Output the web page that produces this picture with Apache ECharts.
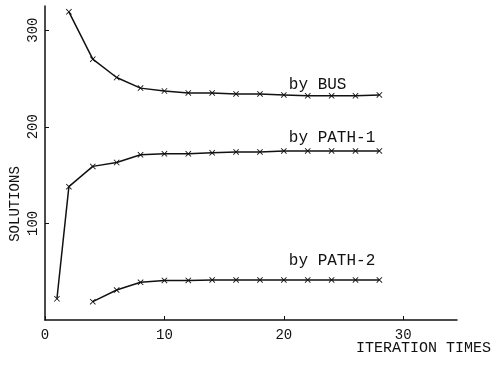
<!DOCTYPE html>
<html>
<head>
<meta charset="utf-8">
<script src="https://cdn.jsdelivr.net/npm/echarts@6/dist/echarts.min.js"></script>
<style>
	html, body { margin: 0; padding: 0; background: #fff; }
	#chart { width: 502px; height: 366px; }
</style>
</head>
<body>
<div id="chart"></div>
<script>
// values
var busX = [2, 4, 6, 8, 10, 12, 14, 16, 18, 20, 22, 24, 26, 28];
var busY = [319, 270, 251, 240, 237, 235, 235, 234, 234, 233, 232, 232, 232, 233];

var path1X = [1, 2, 4, 6, 8, 10, 12, 14, 16, 18, 20, 22, 24, 26, 28];
var path1Y = [22, 138, 159, 163, 171, 172, 172, 173, 174, 174, 175, 175, 175, 175, 175];

var path2X = [4, 6, 8, 10, 12, 14, 16, 18, 20, 22, 24, 26, 28];
var path2Y = [19, 31, 39, 41, 41, 41.5, 41.5, 41.5, 41.5, 41.5, 41.5, 41.5, 41.5];

var seriesNames = ["by BUS", "by PATH-1", "by PATH-2"];
var xTicks = [0, 10, 20, 30];
var yTicks = [100, 200, 300];

var FONT = "Liberation Mono";
var INK = "#111";
var CROSS = "path://M0,1L1,0L5,4L9,0L10,1L6,5L10,9L9,10L5,6L1,10L0,9L4,5Z";

// pair x and y, put the series label on the point at x = 20
function points(xs, ys, name, labelOffset)
{
	var re = [];
	for(var i=0; i<xs.length; i++)
	{
		var p = { value: [xs[i], ys[i]] };
		if(xs[i] === 20)
		{
			p.label = {
				show: true,
				formatter: name,
				position: "top",
				align: "left",
				distance: 0,
				offset: labelOffset,
				fontFamily: FONT,
				fontSize: 16,
				color: INK
			};
		}
		re.push(p);
	}
	return re;
}

function lineSeries(name, data)
{
	return {
		name: name,
		type: "line",
		data: data,
		symbol: CROSS,
		symbolSize: 6,
		showAllSymbol: true,
		lineStyle: { color: INK, width: 1.5 },
		itemStyle: { color: INK },
		emphasis: { disabled: true },
		animation: false
	};
}

var chart = echarts.init(document.getElementById("chart"));

chart.setOption({
	backgroundColor: "#fff",
	animation: false,
	grid: { left: 45, right: 45, top: 6, bottom: 46 },
	xAxis: {
		type: "value",
		min: 0,
		max: 34.5,
		interval: 10,
		axisLine: { lineStyle: { color: INK, width: 1.5 } },
		axisTick: { show: true, inside: true, length: 4, lineStyle: { color: INK } },
		splitLine: { show: false },
		axisLabel: {
			showMaxLabel: false,
			margin: 8,
			fontFamily: FONT,
			fontSize: 14,
			color: INK,
			formatter: function(v) { return xTicks.indexOf(v) >= 0 ? String(v) : ""; }
		}
	},
	yAxis: {
		type: "value",
		min: 0,
		max: 325,
		interval: 100,
		axisLine: { show: true, lineStyle: { color: INK, width: 1.5 } },
		axisTick: { show: true, inside: true, length: 4, lineStyle: { color: INK } },
		splitLine: { show: false },
		axisLabel: {
			showMinLabel: false,
			showMaxLabel: false,
			rotate: 90,
			margin: 5,
			fontFamily: FONT,
			fontSize: 14,
			color: INK,
			formatter: function(v) { return yTicks.indexOf(v) >= 0 ? String(v) : ""; }
		}
	},
	graphic: [
		{
			type: "text",
			x: 15,
			y: 204,
			rotation: Math.PI / 2,
			style: {
				text: "SOLUTIONS",
				font: "14px " + FONT,
				fill: INK,
				align: "center",
				verticalAlign: "middle"
			}
		},
		{
			type: "text",
			x: 491,
			y: 348,
			style: {
				text: "ITERATION TIMES",
				font: "15px " + FONT,
				fill: INK,
				align: "right",
				verticalAlign: "middle"
			}
		}
	],
	series: [
		lineSeries(seriesNames[0], points(busX, busY, seriesNames[0], [5, 1])),
		lineSeries(seriesNames[1], points(path1X, path1Y, seriesNames[1], [5, -2])),
		lineSeries(seriesNames[2], points(path2X, path2Y, seriesNames[2], [5, -8]))
	]
});
</script>
</body>
</html>
